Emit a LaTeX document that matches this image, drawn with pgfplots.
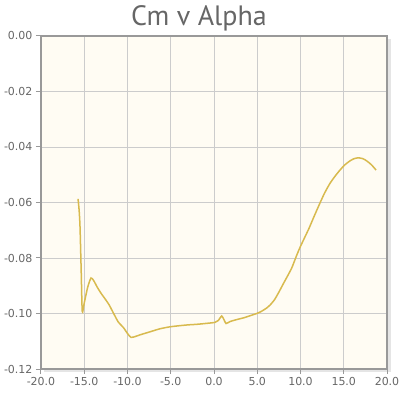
\documentclass[border=0pt]{standalone}
\usepackage{pgfplots}
\pgfplotsset{compat=1.18}
\usepackage{fontspec}
\setmainfont{DejaVu Sans}
\newfontfamily\titlefont{PT Sans}
\definecolor{bgc}{HTML}{FFFCF3}
\definecolor{gridc}{HTML}{CCCCCC}
\definecolor{axc}{HTML}{999999}
\definecolor{txtc}{HTML}{666666}
\definecolor{linec}{HTML}{D8BA4E}
\begin{document}
\begin{tikzpicture}
\path[use as bounding box] (-41pt,-34pt) rectangle (360pt,369pt);
\fill[black!10] (3pt,-3.5pt) rectangle (349.5pt,330pt);
\begin{axis}[
  scale only axis,
  width=346pt, height=333pt,
  at={(0,0)}, anchor=south west,
  xmin=-20, xmax=20, ymin=-0.12, ymax=0,
  xtick={-20,-15,...,20},
  ytick={-0.12,-0.10,-0.08,-0.06,-0.04,-0.02,0},
  xticklabel style={/pgf/number format/.cd,fixed,fixed zerofill,precision=1,assume math mode=true},
  yticklabel style={/pgf/number format/.cd,fixed,fixed zerofill,precision=2,assume math mode=true},
  scaled y ticks=false,
  ticklabel style={font=\fontsize{11}{13}\selectfont, text=txtc},
  xtick pos=bottom, ytick pos=left,
  tick align=outside,
  major tick length=5pt,
  tick style={axc, line width=1pt},
  grid=major,
  major grid style={gridc, line width=0.8pt},
  axis background/.style={fill=bgc},
  axis line style={axc, line width=2pt},
  clip=true,
]
\addplot[linec, line width=1.5pt, smooth, tension=0.4] coordinates {
(-15.72,-0.0587) (-15.60,-0.0625) (-15.49,-0.0687) (-15.35,-0.0850) (-15.23,-0.0993)
(-15.00,-0.0962) (-14.60,-0.0905) (-14.22,-0.0872) (-13.90,-0.0882) (-13.50,-0.0905)
(-13.06,-0.0927) (-12.60,-0.0947) (-12.14,-0.0968) (-11.60,-0.1000) (-11.06,-0.1031)
(-10.49,-0.1050) (-10.00,-0.1072) (-9.60,-0.1086) (-9.10,-0.1083) (-8.56,-0.1077)
(-7.40,-0.1066) (-6.24,-0.1055) (-5.09,-0.1048) (-4.00,-0.1044) (-3.00,-0.1041)
(-2.00,-0.1039) (-1.00,-0.1036) (0.12,-0.1032) (0.50,-0.1025) (0.89,-0.1009)
(1.15,-0.1022) (1.39,-0.1036) (1.85,-0.1029) (2.50,-0.1023) (3.50,-0.1015)
(4.16,-0.1008) (4.94,-0.1000) (5.50,-0.0992) (6.10,-0.0980) (6.47,-0.0970)
(7.00,-0.0950) (7.50,-0.0923) (8.01,-0.0893) (8.50,-0.0865) (9.00,-0.0835)
(9.50,-0.0795) (9.94,-0.0762) (10.50,-0.0725) (11.00,-0.0692) (11.60,-0.0648)
(12.25,-0.0602) (12.80,-0.0565) (13.41,-0.0531) (14.00,-0.0505) (14.57,-0.0483)
(15.10,-0.0465) (15.72,-0.0450) (16.20,-0.0442) (16.68,-0.0439) (17.20,-0.0442)
(17.65,-0.0450) (18.20,-0.0464) (18.73,-0.0483)
};
\end{axis}
\node[font=\titlefont\fontsize{28}{32}\selectfont, text=txtc] at (158pt,351pt) {Cm v Alpha};
\end{tikzpicture}
\end{document}
